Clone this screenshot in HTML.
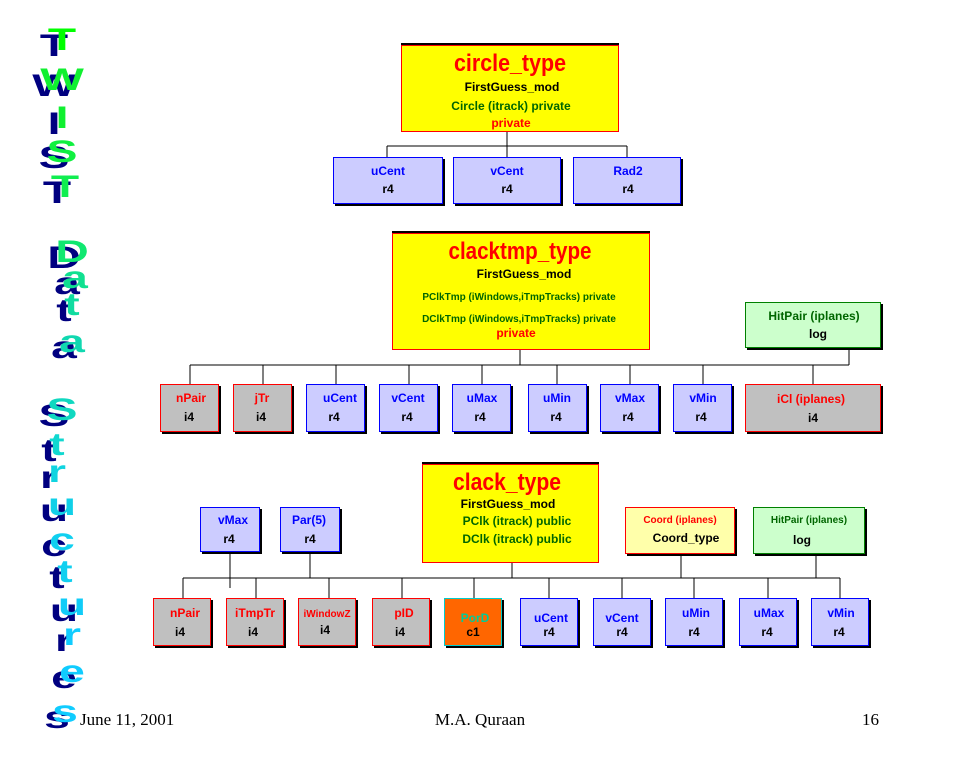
<!DOCTYPE html>
<html><head><meta charset="utf-8"><style>
html,body{margin:0;padding:0;background:#fff;width:960px;height:768px;overflow:hidden}
svg{display:block}
.t{font-family:"Liberation Sans",sans-serif;font-weight:bold;font-size:12px;text-anchor:middle}
.ti{font-family:"Liberation Sans",sans-serif;font-weight:bold;font-size:24px;fill:#ff0000;text-anchor:middle}
.big{font-family:"Liberation Sans",sans-serif;font-weight:900;font-size:33px;text-anchor:middle}
.ft{font-family:"Liberation Serif",serif;font-size:17px}
</style></head><body>
<svg width="960" height="768" xmlns="http://www.w3.org/2000/svg">
<!-- Left title -->
<g class="big">
<g fill="#000080" transform="translate(-8,6)">
<text transform="translate(62,50) scale(1.4,0.95)">T</text>
<text transform="translate(62,90) scale(1.4,0.95)">W</text>
<text transform="translate(62,128) scale(1.4,0.95)">I</text>
<text transform="translate(62,162) scale(1.4,0.95)">S</text>
<text transform="translate(65,197) scale(1.4,0.95)">T</text>
<text transform="translate(72,262) scale(1.4,0.95)">D</text>
<text transform="translate(75,288) scale(1.4,0.95)">a</text>
<text transform="translate(72,315) scale(1.4,0.95)">t</text>
<text transform="translate(72,352) scale(1.4,0.95)">a</text>
<text transform="translate(62,420) scale(1.4,0.95)">S</text>
<text transform="translate(57,455) scale(1.4,0.95)">t</text>
<text transform="translate(57,482) scale(1.4,0.95)">r</text>
<text transform="translate(62,515) scale(1.4,0.95)">u</text>
<text transform="translate(62,550) scale(1.4,0.95)">c</text>
<text transform="translate(65,582) scale(1.4,0.95)">t</text>
<text transform="translate(72,615) scale(1.4,0.95)">u</text>
<text transform="translate(72,645) scale(1.4,0.95)">r</text>
<text transform="translate(72,682) scale(1.4,0.95)">e</text>
<text transform="translate(65,722) scale(1.4,0.95)">s</text>
</g>
<g>
<text fill="#00ff00" transform="translate(62,50) scale(1.4,0.95)">T</text>
<text fill="#10f030" transform="translate(62,90) scale(1.4,0.95)">W</text>
<text fill="#10f030" transform="translate(62,128) scale(1.4,0.95)">I</text>
<text fill="#10f040" transform="translate(62,162) scale(1.4,0.95)">S</text>
<text fill="#10ee50" transform="translate(65,197) scale(1.4,0.95)">T</text>
<text fill="#10e870" transform="translate(72,262) scale(1.4,0.95)">D</text>
<text fill="#10e090" transform="translate(75,288) scale(1.4,0.95)">a</text>
<text fill="#10dca0" transform="translate(72,315) scale(1.4,0.95)">t</text>
<text fill="#10d8b0" transform="translate(72,352) scale(1.4,0.95)">a</text>
<text fill="#10d8c0" transform="translate(62,420) scale(1.4,0.95)">S</text>
<text fill="#10d8d0" transform="translate(57,455) scale(1.4,0.95)">t</text>
<text fill="#10d4e0" transform="translate(57,482) scale(1.4,0.95)">r</text>
<text fill="#10d0e8" transform="translate(62,515) scale(1.4,0.95)">u</text>
<text fill="#10d0f0" transform="translate(62,550) scale(1.4,0.95)">c</text>
<text fill="#10d0f0" transform="translate(65,582) scale(1.4,0.95)">t</text>
<text fill="#10ccf8" transform="translate(72,615) scale(1.4,0.95)">u</text>
<text fill="#10ccff" transform="translate(72,645) scale(1.4,0.95)">r</text>
<text fill="#10ccff" transform="translate(72,682) scale(1.4,0.95)">e</text>
<text fill="#10ccff" transform="translate(65,722) scale(1.4,0.95)">s</text>
</g>
</g>

<!-- connectors -->
<g stroke="#000" stroke-width="1" fill="none">
<path d="M507 132V146M387 146H627M387 146V157M507 146V157M627 146V157"/>
<path d="M520 350V365M849 348V365M190 365H849M190 365V384M263 365V384M336 365V384M409 365V384M482 365V384M557 365V384M630 365V384M703 365V384M813 365V384"/>
<path d="M512 563V578M230 552V588M310 552V578M681 554V578M816 554V578M183 578H840"/>
<path d="M183 578V598M256 578V598M329 578V598M402 578V598M474 578V598M549 578V598M622 578V598M694 578V598M768 578V598M840 578V598"/>
</g>

<!-- title boxes -->
<g>
<rect x="401" y="43" width="218" height="2" fill="#000"/>
<rect x="401.5" y="45.5" width="217" height="86" fill="#ffff00" stroke="#ff0000"/>
<text class="ti" x="510" y="71" textLength="112" lengthAdjust="spacingAndGlyphs">circle_type</text>
<text class="t" x="512" y="91" fill="#000">FirstGuess_mod</text>
<text class="t" x="511" y="110" fill="#006600">Circle (itrack) private</text>
<text class="t" x="511" y="127" fill="#ff0000">private</text>

<rect x="392" y="231" width="258" height="2" fill="#000"/>
<rect x="392.5" y="233.5" width="257" height="116" fill="#ffff00" stroke="#ff0000"/>
<text class="ti" x="520" y="259" textLength="143" lengthAdjust="spacingAndGlyphs">clacktmp_type</text>
<text class="t" x="524" y="278" fill="#000">FirstGuess_mod</text>
<text class="t" x="519" y="300" fill="#006600" style="font-size:10px">PClkTmp (iWindows,iTmpTracks) private</text>
<text class="t" x="519" y="322" fill="#006600" style="font-size:10px">DClkTmp (iWindows,iTmpTracks) private</text>
<text class="t" x="516" y="337" fill="#ff0000">private</text>

<rect x="422" y="462" width="177" height="2" fill="#000"/>
<rect x="422.5" y="464.5" width="176" height="98" fill="#ffff00" stroke="#ff0000"/>
<text class="ti" x="507" y="490" textLength="108" lengthAdjust="spacingAndGlyphs">clack_type</text>
<text class="t" x="508" y="508" fill="#000">FirstGuess_mod</text>
<text class="t" x="517" y="525" fill="#006600">PClk (itrack) public</text>
<text class="t" x="517" y="543" fill="#006600">DClk (itrack) public</text>
</g>

<g>
<rect x="335" y="159" width="110" height="47" fill="#000"/><rect x="333.5" y="157.5" width="109" height="46" fill="#ccccff" stroke="#0000ff"/>
<text class="t" x="388" y="175" fill="#0000ff">uCent</text><text class="t" x="388" y="193" fill="#000">r4</text>
<rect x="455" y="159" width="108" height="47" fill="#000"/><rect x="453.5" y="157.5" width="107" height="46" fill="#ccccff" stroke="#0000ff"/>
<text class="t" x="507" y="175" fill="#0000ff">vCent</text><text class="t" x="507" y="193" fill="#000">r4</text>
<rect x="575" y="159" width="108" height="47" fill="#000"/><rect x="573.5" y="157.5" width="107" height="46" fill="#ccccff" stroke="#0000ff"/>
<text class="t" x="628" y="175" fill="#0000ff">Rad2</text><text class="t" x="628" y="193" fill="#000">r4</text>

<rect x="747" y="304" width="136" height="46" fill="#000"/><rect x="745.5" y="302.5" width="135" height="45" fill="#ccffcc" stroke="#008000"/>
<text class="t" x="814" y="320" fill="#006600">HitPair (iplanes)</text><text class="t" x="818" y="338" fill="#000">log</text>

<rect x="162" y="386" width="59" height="48" fill="#000"/><rect x="160.5" y="384.5" width="58" height="47" fill="#c0c0c0" stroke="#ff0000"/>
<text class="t" x="191" y="402" fill="#ff0000">nPair</text><text class="t" x="189" y="421" fill="#000">i4</text>
<rect x="235" y="386" width="59" height="48" fill="#000"/><rect x="233.5" y="384.5" width="58" height="47" fill="#c0c0c0" stroke="#ff0000"/>
<text class="t" x="262" y="402" fill="#ff0000">jTr</text><text class="t" x="261" y="421" fill="#000">i4</text>
<rect x="308" y="386" width="59" height="48" fill="#000"/><rect x="306.5" y="384.5" width="58" height="47" fill="#ccccff" stroke="#0000ff"/>
<text class="t" x="340" y="402" fill="#0000ff">uCent</text><text class="t" x="334" y="421" fill="#000">r4</text>
<rect x="381" y="386" width="59" height="48" fill="#000"/><rect x="379.5" y="384.5" width="58" height="47" fill="#ccccff" stroke="#0000ff"/>
<text class="t" x="408" y="402" fill="#0000ff">vCent</text><text class="t" x="407" y="421" fill="#000">r4</text>
<rect x="454" y="386" width="59" height="48" fill="#000"/><rect x="452.5" y="384.5" width="58" height="47" fill="#ccccff" stroke="#0000ff"/>
<text class="t" x="482" y="402" fill="#0000ff">uMax</text><text class="t" x="480" y="421" fill="#000">r4</text>
<rect x="530" y="386" width="59" height="48" fill="#000"/><rect x="528.5" y="384.5" width="58" height="47" fill="#ccccff" stroke="#0000ff"/>
<text class="t" x="557" y="402" fill="#0000ff">uMin</text><text class="t" x="556" y="421" fill="#000">r4</text>
<rect x="602" y="386" width="59" height="48" fill="#000"/><rect x="600.5" y="384.5" width="58" height="47" fill="#ccccff" stroke="#0000ff"/>
<text class="t" x="630" y="402" fill="#0000ff">vMax</text><text class="t" x="628" y="421" fill="#000">r4</text>
<rect x="675" y="386" width="59" height="48" fill="#000"/><rect x="673.5" y="384.5" width="58" height="47" fill="#ccccff" stroke="#0000ff"/>
<text class="t" x="703" y="402" fill="#0000ff">vMin</text><text class="t" x="701" y="421" fill="#000">r4</text>
<rect x="747" y="386" width="136" height="48" fill="#000"/><rect x="745.5" y="384.5" width="135" height="47" fill="#c0c0c0" stroke="#ff0000"/>
<text class="t" x="811" y="403" fill="#ff0000">iCl (iplanes)</text><text class="t" x="813" y="422" fill="#000">i4</text>

<rect x="202" y="509" width="60" height="45" fill="#000"/><rect x="200.5" y="507.5" width="59" height="44" fill="#ccccff" stroke="#0000ff"/>
<text class="t" x="233" y="524" fill="#0000ff">vMax</text><text class="t" x="229" y="543" fill="#000">r4</text>
<rect x="282" y="509" width="60" height="45" fill="#000"/><rect x="280.5" y="507.5" width="59" height="44" fill="#ccccff" stroke="#0000ff"/>
<text class="t" x="309" y="524" fill="#0000ff">Par(5)</text><text class="t" x="310" y="543" fill="#000">r4</text>
<rect x="627" y="509" width="110" height="47" fill="#000"/><rect x="625.5" y="507.5" width="109" height="46" fill="#ffffaa" stroke="#ff0000"/>
<text class="t" x="680" y="523" fill="#ff0000" style="font-size:10px">Coord (iplanes)</text><text class="t" x="686" y="542" fill="#000">Coord_type</text>
<rect x="755" y="509" width="112" height="47" fill="#000"/><rect x="753.5" y="507.5" width="111" height="46" fill="#ccffcc" stroke="#008000"/>
<text class="t" x="809" y="523" fill="#006600" style="font-size:10px">HitPair (iplanes)</text><text class="t" x="802" y="544" fill="#000">log</text>

<rect x="155" y="600" width="58" height="48" fill="#000"/><rect x="153.5" y="598.5" width="57" height="47" fill="#c0c0c0" stroke="#ff0000"/>
<text class="t" x="185" y="617" fill="#ff0000">nPair</text><text class="t" x="180" y="636" fill="#000">i4</text>
<rect x="228" y="600" width="58" height="48" fill="#000"/><rect x="226.5" y="598.5" width="57" height="47" fill="#c0c0c0" stroke="#ff0000"/>
<text class="t" x="255" y="617" fill="#ff0000">iTmpTr</text><text class="t" x="253" y="636" fill="#000">i4</text>
<rect x="300" y="600" width="58" height="48" fill="#000"/><rect x="298.5" y="598.5" width="57" height="47" fill="#c0c0c0" stroke="#ff0000"/>
<text class="t" x="327" y="617" fill="#ff0000" style="font-size:10px">iWindowZ</text><text class="t" x="325" y="634" fill="#000">i4</text>
<rect x="374" y="600" width="58" height="48" fill="#000"/><rect x="372.5" y="598.5" width="57" height="47" fill="#c0c0c0" stroke="#ff0000"/>
<text class="t" x="404" y="617" fill="#ff0000">pID</text><text class="t" x="400" y="636" fill="#000">i4</text>
<rect x="446" y="600" width="58" height="48" fill="#000"/><rect x="444.5" y="598.5" width="57" height="47" fill="#ff6600" stroke="#00cccc"/>
<text class="t" x="475" y="622" fill="#00cc99">PorD</text><text class="t" x="473" y="636" fill="#000">c1</text>
<rect x="522" y="600" width="58" height="48" fill="#000"/><rect x="520.5" y="598.5" width="57" height="47" fill="#ccccff" stroke="#0000ff"/>
<text class="t" x="551" y="622" fill="#0000ff">uCent</text><text class="t" x="549" y="636" fill="#000">r4</text>
<rect x="595" y="600" width="58" height="48" fill="#000"/><rect x="593.5" y="598.5" width="57" height="47" fill="#ccccff" stroke="#0000ff"/>
<text class="t" x="622" y="622" fill="#0000ff">vCent</text><text class="t" x="622" y="636" fill="#000">r4</text>
<rect x="667" y="600" width="58" height="48" fill="#000"/><rect x="665.5" y="598.5" width="57" height="47" fill="#ccccff" stroke="#0000ff"/>
<text class="t" x="696" y="617" fill="#0000ff">uMin</text><text class="t" x="694" y="636" fill="#000">r4</text>
<rect x="741" y="600" width="58" height="48" fill="#000"/><rect x="739.5" y="598.5" width="57" height="47" fill="#ccccff" stroke="#0000ff"/>
<text class="t" x="769" y="617" fill="#0000ff">uMax</text><text class="t" x="767" y="636" fill="#000">r4</text>
<rect x="813" y="600" width="58" height="48" fill="#000"/><rect x="811.5" y="598.5" width="57" height="47" fill="#ccccff" stroke="#0000ff"/>
<text class="t" x="841" y="617" fill="#0000ff">vMin</text><text class="t" x="839" y="636" fill="#000">r4</text>
</g>

<text class="ft" x="80" y="725">June 11, 2001</text>
<text class="ft" x="480" y="725" text-anchor="middle">M.A. Quraan</text>
<text class="ft" x="879" y="725" text-anchor="end">16</text>
</svg>
</body></html>
